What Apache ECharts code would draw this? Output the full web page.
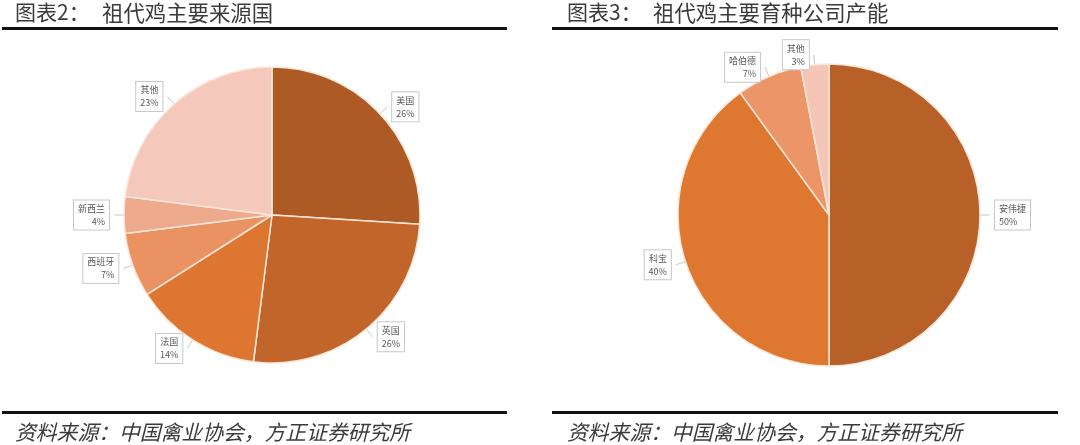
<!DOCTYPE html>
<html>
<head>
<meta charset="utf-8">
<script src="https://cdn.jsdelivr.net/npm/echarts@6/dist/echarts.min.js"></script>
<style>
html,body{margin:0;padding:0;background:#fff;}
#c{width:1080px;height:445px;}
</style>
</head>
<body>
<div id="c"></div>
<script>
// Data
const leftNames = ['美国', '英国', '法国', '西班牙', '新西兰', '其他'];
const leftValues = [26, 26, 14, 7, 4, 23];
const leftColors = ['#AD5A24', '#C1652A', '#DC7630', '#EB9263', '#EEAA8C', '#F4C9BB'];
const rightNames = ['安伟捷', '科宝', '哈伯德', '其他'];
const rightValues = [50, 40, 7, 3];
const rightColors = ['#B76128', '#DE7730', '#EB9569', '#F5C6B6'];
const titleLeftNo = '图表2：';
const titleLeftText = '祖代鸡主要来源国';
const titleRightNo = '图表3：';
const titleRightText = '祖代鸡主要育种公司产能';
const sourceText = '资料来源：中国禽业协会，方正证券研究所';

const FONT = '"Noto Sans CJK SC", "Noto Sans", sans-serif';

function mkData(names, values, colors) {
  return names.map((n, i) => ({ name: n, value: values[i], itemStyle: { color: colors[i] } }));
}

const labelCfg = {
  show: true,
  position: 'outside',
  formatter: '{b}\n{c}%',
  fontSize: 9,
  lineHeight: 13,
  color: '#595959',
  fontFamily: FONT,
  backgroundColor: '#fff',
  borderColor: '#C8C8C8',
  borderWidth: 1,
  padding: [2, 4, 1, 4],
  align: 'center'
};
const labelLineCfg = { show: true, length: 10, length2: 0, lineStyle: { color: '#C8C8C8', width: 1 } };

const chart = echarts.init(document.getElementById('c'), null, { renderer: 'canvas' });
chart.setOption({
  animation: false,
  backgroundColor: '#fff',
  graphic: [
    { type: 'text', left: 15, top: 2, style: { text: titleLeftNo, font: '21px ' + FONT, fill: '#3a3a3a' } },
    { type: 'text', left: 102, top: 2, style: { text: titleLeftText, font: '21.4px ' + FONT, fill: '#3a3a3a' } },
    { type: 'text', left: 567, top: 2, style: { text: titleRightNo, font: '21px ' + FONT, fill: '#3a3a3a' } },
    { type: 'text', left: 653, top: 2, style: { text: titleRightText, font: '21.4px ' + FONT, fill: '#3a3a3a' } },
    { type: 'rect', shape: { x: 2, y: 27, width: 505, height: 3 }, style: { fill: '#111' } },
    { type: 'rect', shape: { x: 552, y: 27, width: 506, height: 3 }, style: { fill: '#111' } },
    { type: 'rect', shape: { x: 2, y: 411, width: 505, height: 3 }, style: { fill: '#111' } },
    { type: 'rect', shape: { x: 552, y: 411, width: 506, height: 3 }, style: { fill: '#111' } },
    { type: 'text', left: 15, top: 422, style: { text: sourceText, font: 'italic 20.8px ' + FONT, fill: '#3a3a3a' } },
    { type: 'text', left: 567, top: 422, style: { text: sourceText, font: 'italic 20.8px ' + FONT, fill: '#3a3a3a' } }
  ],
  series: [
    {
      type: 'pie',
      center: [272, 215],
      radius: 148,
      startAngle: 90,
      clockwise: true,
      avoidLabelOverlap: false,
      itemStyle: { borderColor: '#FCE6D8', borderWidth: 1.5 },
      label: labelCfg,
      labelLine: labelLineCfg,
      emphasis: { disabled: true },
      data: mkData(leftNames, leftValues, leftColors)
    },
    {
      type: 'pie',
      center: [829, 215],
      radius: 151,
      startAngle: 90,
      clockwise: true,
      avoidLabelOverlap: false,
      itemStyle: { borderColor: '#FCE6D8', borderWidth: 1.5 },
      label: labelCfg,
      labelLine: labelLineCfg,
      emphasis: { disabled: true },
      data: mkData(rightNames, rightValues, rightColors)
    }
  ]
});
</script>
</body>
</html>
